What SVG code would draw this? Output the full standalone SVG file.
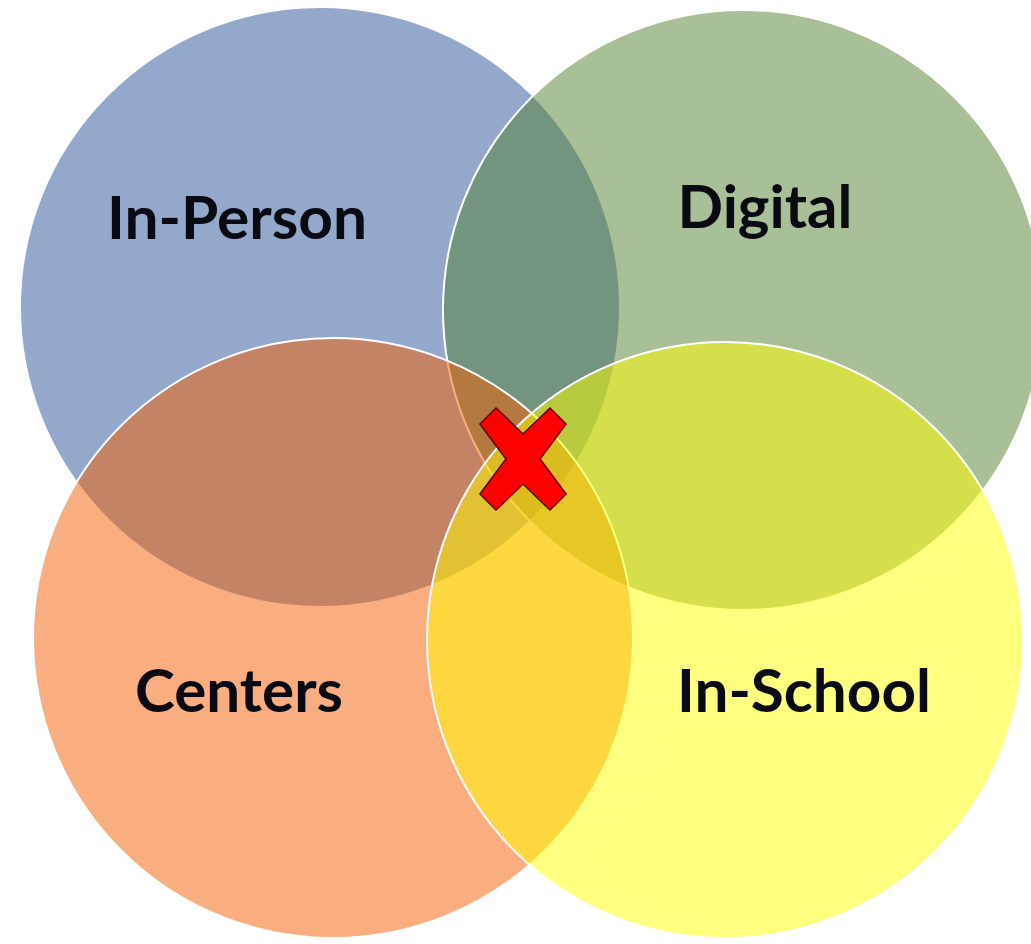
<svg xmlns="http://www.w3.org/2000/svg" width="1031" height="944" viewBox="0 0 1031 944">
  <style>
    .c { fill-opacity: 0.5; stroke: #ffffff; stroke-width: 2; }
    .lbl { font-family: Lato, "Open Sans", "Liberation Sans", sans-serif; font-weight: 700; font-size: 60px; fill: #0a0a12; text-anchor: middle; }
    .x { fill: #ff0000; stroke: #6a0000; stroke-width: 1.6; stroke-linejoin: miter; }
  </style>
  <rect width="1031" height="944" fill="#ffffff"/>
  <g id="in-person">
    <circle class="c" cx="320" cy="307" r="300" fill="#295199"/>
  </g>
  <g id="digital">
    <circle class="c" cx="743" cy="310" r="300" fill="#517f2f"/>
  </g>
  <g id="centers">
    <circle class="c" cx="333" cy="638" r="300" fill="#f55d00"/>
  </g>
  <g id="in-school">
    <circle class="c" cx="725" cy="640" r="298" fill="#ffff00"/>
  </g>
  <g id="labels">
    <text class="lbl" x="237" y="239" textLength="260" lengthAdjust="spacingAndGlyphs">In-Person</text>
    <text class="lbl" x="765" y="228" textLength="175" lengthAdjust="spacingAndGlyphs">Digital</text>
    <text class="lbl" x="239" y="712" textLength="208" lengthAdjust="spacingAndGlyphs">Centers</text>
    <text class="lbl" x="804" y="712" textLength="254" lengthAdjust="spacingAndGlyphs">In-School</text>
  </g>
  <g id="cross">
    <polygon class="x" points="480,424 496,408 523,434 550,408 566,424 540,459 566,494 550,510 523,484 496,510 480,494 506,459"/>
  </g>
  <g id="connectors"></g>
</svg>
